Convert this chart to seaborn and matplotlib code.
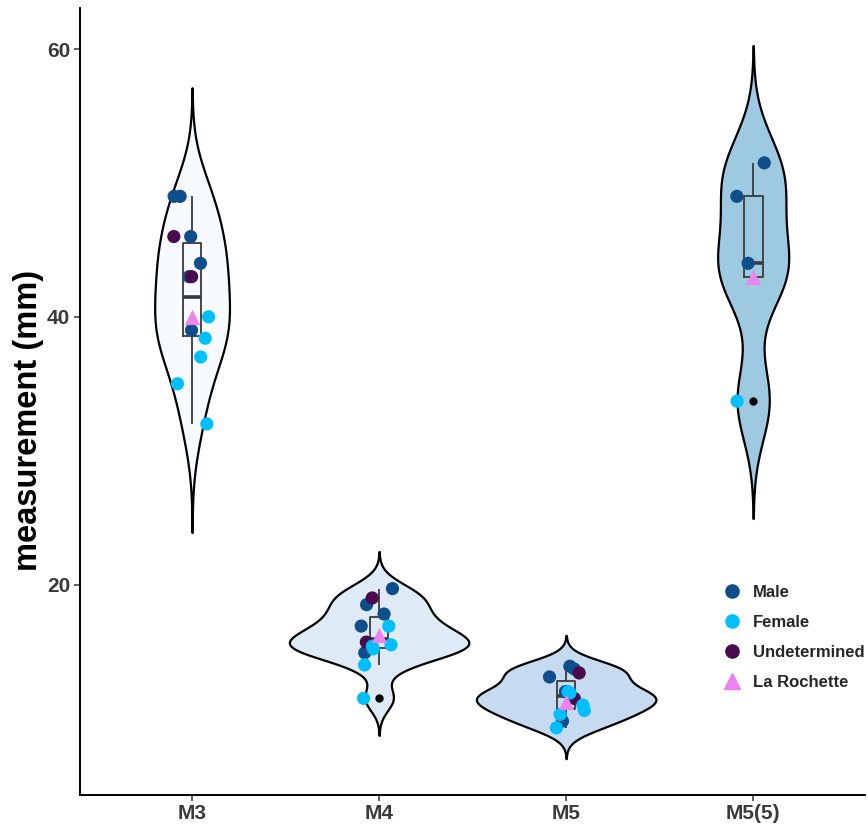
import numpy as np
import pandas as pd
import matplotlib
matplotlib.use("Agg")
import matplotlib.pyplot as plt
from matplotlib.lines import Line2D
import seaborn as sns

# values (mm)
sites = ["M3", "M4", "M5", "M5(5)"]

m3_vals = [49, 49, 46, 44, 43, 39, 46, 43, 40, 38.4, 37, 35, 32, 40]
m3_sex = ["Male"] * 6 + ["Undetermined"] * 2 + ["Female"] * 5 + ["La Rochette"]

m4_vals = [19.7, 18.5, 17.8, 16.9, 14.9, 19.0, 15.7, 16.9, 15.5, 15.2, 15.4, 14.0, 11.5, 16.2]
m4_sex = ["Male"] * 5 + ["Undetermined"] * 2 + ["Female"] * 6 + ["La Rochette"]

m5_vals = [13.7, 13.9, 13.1, 12.0, 9.8, 13.4, 11.5, 11.9, 12.0, 11.0, 10.6, 10.3, 9.3, 11.2]
m5_sex = ["Male"] * 5 + ["Undetermined"] * 2 + ["Female"] * 6 + ["La Rochette"]

m55_vals = [51.5, 49, 44, 33.7, 43]
m55_sex = ["Male"] * 3 + ["Female"] + ["La Rochette"]

fill_cols = dict(zip(sites, ["#F7FBFF", "#DEEBF7", "#C6DBEF", "#9ECAE1"]))
violin_w = {"M3": 0.40, "M4": 0.96, "M5": 0.96, "M5(5)": 0.38}
sex_order = ["Male", "Female", "Undetermined"]
sex_cols = {"Male": "#104E8B", "Female": "#00BFFF", "Undetermined": "#4A0A4E"}
lr_col = "#EE82EE"

df = pd.DataFrame({
    "site": ["M3"] * len(m3_vals) + ["M4"] * len(m4_vals) + ["M5"] * len(m5_vals) + ["M5(5)"] * len(m55_vals),
    "value": m3_vals + m4_vals + m5_vals + m55_vals,
    "sex": m3_sex + m4_sex + m5_sex + m55_sex,
})


def nrd0(kde):
    # R's default bandwidth, as a factor of the sample sd
    x = kde.dataset.ravel()
    sd = x.std(ddof=1)
    q75, q25 = np.percentile(x, [75, 25])
    lo = min(sd, (q75 - q25) / 1.34)
    return 0.9 * lo * len(x) ** -0.2 / sd


sns.set_style("ticks")
plt.rcParams["font.family"] = ["Liberation Sans", "DejaVu Sans"]

fig, ax = plt.subplots(figsize=(8.68, 8.27), dpi=100)

for site in sites:
    sns.violinplot(data=df[df["site"] == site], x="site", y="value", hue="site",
                   order=sites, hue_order=sites, palette=fill_cols, saturation=1,
                   legend=False, inner=None, density_norm="width",
                   width=violin_w[site], cut=3, bw_method=nrd0,
                   linewidth=1.6, linecolor="black", ax=ax)

sns.boxplot(data=df, x="site", y="value", order=sites, width=0.1, fill=False,
            color="#3a3a3a", linewidth=1.3, capwidths=0,
            medianprops=dict(linewidth=2.6),
            flierprops=dict(marker="o", markerfacecolor="black",
                            markeredgecolor="black", markersize=5),
            ax=ax)

np.random.seed(11)
circles = df[df["sex"] != "La Rochette"]
sns.stripplot(data=circles, x="site", y="value", order=sites, hue="sex",
              hue_order=sex_order, palette=sex_cols, jitter=0.1, size=9.5,
              linewidth=0, legend=False, ax=ax)

lr = df[df["sex"] == "La Rochette"]
sns.stripplot(data=lr, x="site", y="value", order=sites, color=lr_col, marker="^",
              jitter=0.1, size=11, linewidth=0, legend=False, ax=ax)

ax.set_xlim(-0.6, 3.6)
ax.set_ylim(4.3, 63.05)
ax.set_yticks([20, 40, 60])
ax.set_xlabel("")
ax.set_ylabel("measurement (mm)", fontsize=23.5, fontweight="bold", color="black")
ax.yaxis.set_label_coords(-0.046, 0.476)
sns.despine(ax=ax)
for sp in ["left", "bottom"]:
    ax.spines[sp].set_linewidth(1.4)
    ax.spines[sp].set_color("black")
ax.tick_params(length=4, width=1.1, color="#333333", labelsize=15, labelcolor="#3a3a3a", pad=3)
for lbl in ax.get_xticklabels() + ax.get_yticklabels():
    lbl.set_fontweight("bold")

handles = [Line2D([], [], marker="o", linestyle="", color=sex_cols[s], markersize=9.5)
           for s in sex_order]
handles.append(Line2D([], [], marker="^", linestyle="", color=lr_col, markersize=11))
ax.legend(handles, sex_order + ["La Rochette"], loc="center left",
          bbox_to_anchor=(0.8, 0.2), frameon=False, handlelength=1.0,
          handletextpad=0.8, labelspacing=0.9, prop=dict(size=12, weight="bold"))

fig.subplots_adjust(left=0.092, right=0.997, bottom=0.039, top=0.99)
fig.savefig("out.png", dpi=100)
